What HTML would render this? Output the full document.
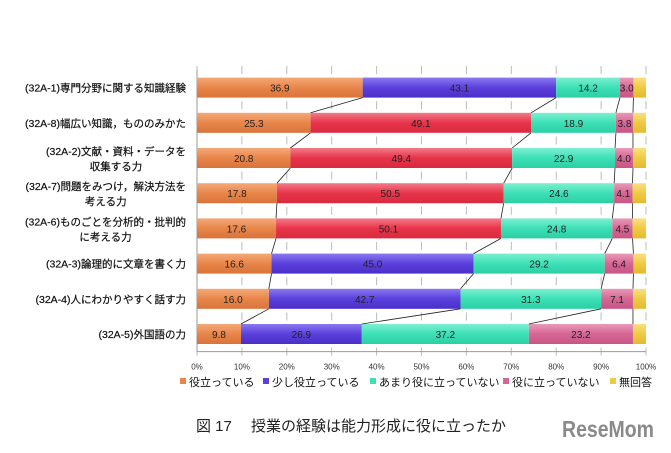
<!DOCTYPE html>
<html><head><meta charset="utf-8"><style>
body{margin:0;background:#fff;}
svg text{font-family:"Liberation Sans","Noto Sans CJK JP",sans-serif;}
</style></head><body>
<svg id="chart" width="671" height="448" xmlns="http://www.w3.org/2000/svg">
<defs>
<linearGradient id="g0" x1="0" y1="0" x2="0" y2="1"><stop offset="0" stop-color="#f5a878"/><stop offset="0.5" stop-color="#e8864a"/><stop offset="1" stop-color="#d9733a"/></linearGradient>
<linearGradient id="g1" x1="0" y1="0" x2="0" y2="1"><stop offset="0" stop-color="#8a78f0"/><stop offset="0.5" stop-color="#5b40dc"/><stop offset="1" stop-color="#4a2fc8"/></linearGradient>
<linearGradient id="g1r" x1="0" y1="0" x2="0" y2="1"><stop offset="0" stop-color="#f27a88"/><stop offset="0.5" stop-color="#e8344a"/><stop offset="1" stop-color="#d82a3e"/></linearGradient>
<linearGradient id="g2" x1="0" y1="0" x2="0" y2="1"><stop offset="0" stop-color="#7cf0d0"/><stop offset="0.5" stop-color="#3de0b6"/><stop offset="1" stop-color="#2ccfa4"/></linearGradient>
<linearGradient id="g3" x1="0" y1="0" x2="0" y2="1"><stop offset="0" stop-color="#e99ab8"/><stop offset="0.5" stop-color="#d66694"/><stop offset="1" stop-color="#c85586"/></linearGradient>
<linearGradient id="g4" x1="0" y1="0" x2="0" y2="1"><stop offset="0" stop-color="#f8e080"/><stop offset="0.5" stop-color="#efca44"/><stop offset="1" stop-color="#e2ba30"/></linearGradient>
</defs>
<g id="plot"></g>
<text x="196" y="431" font-size="15" fill="#222">図 17　 授業の経験は能力形成に役に立ったか</text>
<text x="562" y="437" font-size="23" font-weight="bold" fill="#8a8a8a" textLength="92" lengthAdjust="spacingAndGlyphs">ReseMom</text>
</svg>
<script>
const categories=["(32A-1)専門分野に関する知識経験","(32A-8)幅広い知識，もののみかた","(32A-2)文献・資料・データを|収集する力","(32A-7)問題をみつけ，解決方法を|考える力","(32A-6)ものごとを分析的・批判的|に考える力","(32A-3)論理的に文章を書く力","(32A-4)人にわかりやすく話す力","(32A-5)外国語の力"];
const seriesNames=["役立っている","少し役立っている","あまり役に立っていない","役に立っていない","無回答"];
const s0=[36.9,25.3,20.8,17.8,17.6,16.6,16.0,9.8];
const s1=[43.1,49.1,49.4,50.5,50.1,45.0,42.7,26.9];
const s2=[14.2,18.9,22.9,24.6,24.8,29.2,31.3,37.2];
const s3=[3.0,3.8,4.0,4.1,4.5,6.4,7.1,23.2];
const s4=[2.8,2.9,2.9,3.0,3.0,2.8,2.9,2.9];
const ticks=["0%","10%","20%","30%","40%","50%","60%","70%","80%","90%","100%"];
const NS="http://www.w3.org/2000/svg";
const g=document.getElementById('plot');
const x0=197,x1=646,yTop=70,rowH=35.2,barH=20;
const xs=v=>x0+(x1-x0)*v/100;
const yc=i=>yTop+rowH*i+rowH/2;
function mk(t,a){const e=document.createElementNS(NS,t);for(const k in a)e.setAttribute(k,a[k]);g.appendChild(e);return e;}
for(let i=0;i<ticks.length;i++){
 const x=xs(i*10);
 for(let r=0;r<=categories.length;r++){
  const y=yTop+rowH*r;
  const l=mk('line',{x1:x,x2:x,y1:y-4,y2:y+4,stroke:'#bbb','stroke-width':1});
  
  
 }
 const t=mk('text',{x:x,y:yTop+rowH*categories.length+18,'font-size':8,'text-anchor':'middle',fill:'#333'});
 t.textContent=ticks[i];
 
 
}
const ax=mk('line',{x1:x0,x2:x0,y1:yTop,y2:yTop+rowH*categories.length,stroke:'#999'});


const bx=mk('line',{x1:x0,x2:x1,y1:yTop+rowH*categories.length,y2:yTop+rowH*categories.length,stroke:'#999'});


const series=[s0,s1,s2,s3,s4];
const fills=['url(#g0)','url(#g1)','url(#g2)','url(#g3)','url(#g4)'];
const cum=[];
categories.forEach((c,i)=>{
 let acc=0;cum[i]=[];
 const y=yc(i);
 const parts=c.split('|');
 const two=parts.length>1;
 const t1=mk('text',{x:186,y:y+4+(two?-7:0),'font-size':10.5,'text-anchor':'end',fill:'#111',stroke:'#111','stroke-width':0.2});
 t1.textContent=parts[0];
 
 
 if(two){
  const w=t1.getComputedTextLength();
  const t2=mk('text',{x:186-w/2,y:y+12,'font-size':10.5,'text-anchor':'middle',fill:'#111',stroke:'#111','stroke-width':0.2});
  t2.textContent=parts[1];
  
  
 }
 series.forEach((s,j)=>{
  const v=s[i];
  let f=fills[j];
  if(j==1&&i>=1&&i<=4)f='url(#g1r)';
  const r=mk('rect',{x:xs(acc),y:y-barH/2,width:xs(acc+v)-xs(acc),height:barH,fill:f});
  
  
  if(j<4){
   const t=mk('text',{x:(xs(acc)+xs(acc+v))/2,y:y+4,'font-size':10,'text-anchor':'middle',fill:'#222'});
   t.textContent=v.toFixed(1);
   
   
  }
  acc+=v;cum[i].push(acc);
 });
});
for(let i=0;i<categories.length-1;i++){
 for(let j=0;j<4;j++){
  const l=mk('line',{x1:xs(cum[i][j]),y1:yc(i)+barH/2,x2:xs(cum[i+1][j]),y2:yc(i+1)-barH/2,stroke:'#222','stroke-width':0.8});
  
  
 }
}
const lc=['#e8864a','#5b40dc','#3de0b6','#d66694','#efca44'];
const lx=[180,263,370,503,610];
seriesNames.forEach((n,j)=>{
 const r=mk('rect',{x:lx[j],y:378,width:6,height:6,fill:lc[j]});
 
 
 const t=mk('text',{x:lx[j]+9,y:386,'font-size':11,fill:'#111'});
 t.textContent=n;
 
 
});
</script>
</body></html>
